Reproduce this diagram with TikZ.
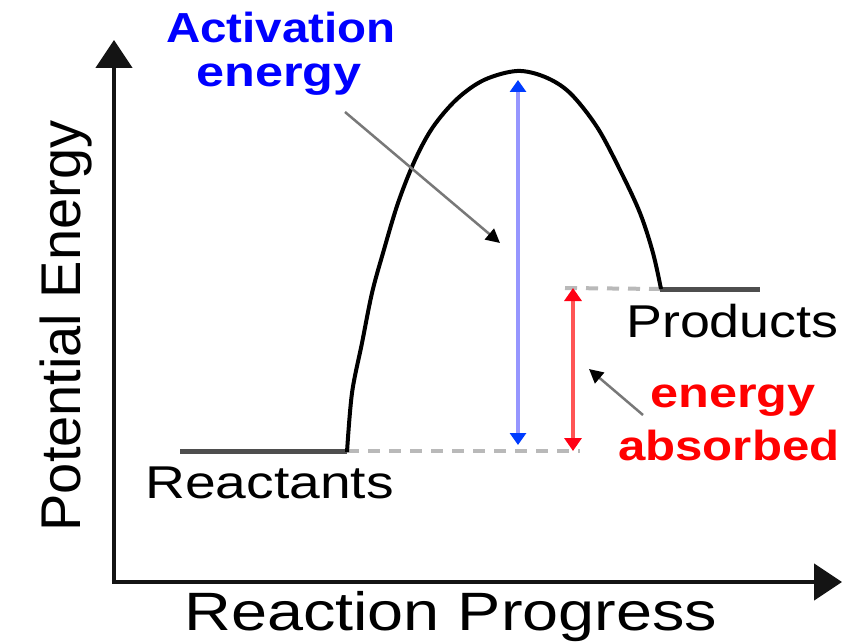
\documentclass[tikz,border=0pt]{standalone}
\usepackage{fontspec}
\setmainfont{Liberation Sans}
\usetikzlibrary{arrows.meta}
\definecolor{axisblack}{RGB}{20,20,20}
\definecolor{plateau}{RGB}{78,78,78}
\definecolor{dashgray}{RGB}{185,185,185}
\definecolor{bluetext}{RGB}{0,0,255}
\definecolor{blueline}{RGB}{150,150,255}
\definecolor{bluehead}{RGB}{0,60,255}
\definecolor{redline}{RGB}{255,85,85}
\definecolor{redhead}{RGB}{255,0,20}
\definecolor{redtext}{RGB}{255,0,0}
\definecolor{pointer}{RGB}{120,120,120}
\begin{document}
\begin{tikzpicture}[x=1pt,y=-1pt,
  axis/.style={line width=4.5pt, draw=axisblack, -{Triangle[length=28pt,width=36pt]}},
  curve/.style={line width=4pt, draw=black, line join=round},
  plat/.style={line width=5pt, draw=plateau},
  dashln/.style={line width=4pt, draw=dashgray, dash pattern=on 12pt off 9pt},
  bluearr/.style={line width=4pt, draw=blueline, {Triangle[length=12pt,width=16pt,fill=bluehead,color=bluehead]}-{Triangle[length=12pt,width=16pt,fill=bluehead,color=bluehead]}},
  redarr/.style={line width=4pt, draw=redline, {Triangle[length=13pt,width=17pt,fill=redhead,color=redhead]}-{Triangle[length=13pt,width=17pt,fill=redhead,color=redhead]}},
  pointarr/.style={line width=2.5pt, draw=pointer, -{Triangle[length=14pt,width=14pt,fill=black,color=black]}},
  lbl/.style={inner sep=0pt, anchor=base west, font=\fontsize{46}{50}\selectfont},
  boldlbl/.style={inner sep=0pt, anchor=base west, font=\fontsize{42}{46}\selectfont\bfseries}
]
\useasboundingbox[fill=white] (0,0) rectangle (856,644);

% axes
\coordinate (origin) at (114,582);
\coordinate (ytop) at (114,40);
\coordinate (xend) at (842,582);
\draw[axis] (origin) -- (ytop);
\draw[axis] ([xshift=-2.25pt]origin) -- (xend);

% energy levels
\coordinate (rstart) at (180,451);
\coordinate (rend) at (347,451);
\coordinate (pstart) at (660,289);
\coordinate (pend) at (760,289);
\coordinate (dbend) at (580,451);
\coordinate (dtstart) at (565,288);

\draw[dashln] (rend) -- (dbend);
\draw[dashln] (dtstart) -- (pstart);

\draw[plat] (rstart) -- (rend);
\draw[plat] (pstart) -- (pend);

% curve
\draw[curve] plot[smooth, tension=0.55] coordinates {
 (347,452) (352,393) (362,343) (372,293) (383,253) (398,203) (415,160)
 (433,127) (457,99) (484,80) (517,71) (545,77) (570,93) (597,127)
 (620,170) (640,213) (653,253) (661,289)};

% activation energy arrow
\coordinate (btop) at (518,80);
\coordinate (bbot) at (518,445);
\draw[bluearr] (btop) -- (bbot);

% energy absorbed arrow
\coordinate (rtop) at (573,288);
\coordinate (rbot) at (573,451);
\draw[redarr] (rtop) -- (rbot);

% labels
\node[boldlbl, text=bluetext, xscale=1.13] (act1) at (166,43) {Activation};
\node[boldlbl, text=bluetext, xscale=1.2] (act2) at (196,87) {energy};
\node[lbl, xscale=1.2] (reac) at (145,498) {Reactants};
\node[lbl, xscale=1.17] (prod) at (626,337) {Products};
\node[boldlbl, text=redtext, xscale=1.2] (abs1) at (650,407) {energy};
\node[boldlbl, text=redtext, xscale=1.17] (abs2) at (618,460) {absorbed};
\node[inner sep=0pt, anchor=base, rotate=90, font=\fontsize{56}{60}\selectfont] (ylab) at (80,326) {Potential Energy};
\node[inner sep=0pt, anchor=base west, xscale=1.2, font=\fontsize{54}{58}\selectfont] (xlab) at (184,630) {Reaction Progress};

% pointers
\coordinate (p1s) at (345,112);
\coordinate (p1e) at (500,243);
\draw[pointarr] (p1s) -- (p1e);
\coordinate (p2s) at (643,415);
\coordinate (p2e) at (589,369);
\draw[pointarr] (p2s) -- (p2e);
\end{tikzpicture}
\end{document}
